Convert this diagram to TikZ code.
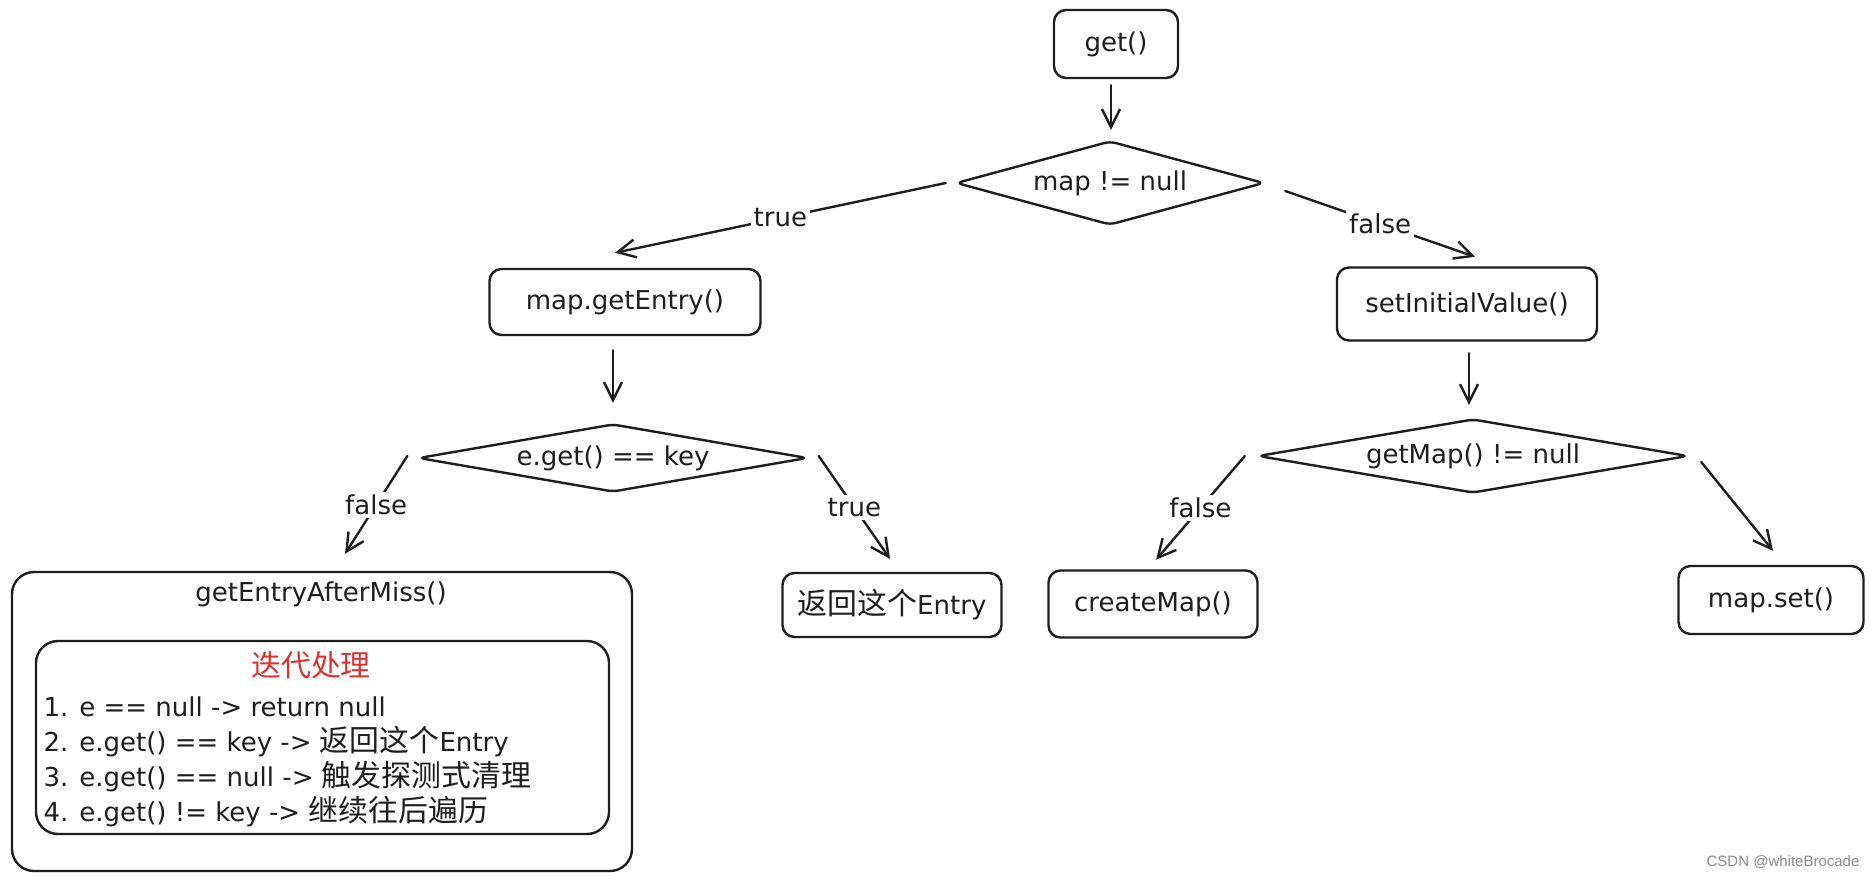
\documentclass[tikz,border=0pt]{standalone}
\usepackage{fontspec}
\setmainfont{DejaVu Sans}
\newfontfamily\cjk[Scale=1.15]{Noto Sans CJK SC}
\newfontfamily\wmfont{Liberation Sans}
\usetikzlibrary{shapes.geometric,arrows.meta,calc}
\definecolor{ink}{HTML}{1E1E1E}
\definecolor{exred}{HTML}{E03131}
\begin{document}
\begin{tikzpicture}[x=1pt,y=-1pt,
  every node/.style={font=\fontsize{26}{35}\selectfont, text=ink},
  box/.style={draw=ink, line width=2.4pt, rounded corners=12pt, inner sep=0pt},
  dia/.style={draw=ink, line width=2.4pt, shape=diamond, rounded corners=6pt, inner sep=0pt},
  conn/.style={draw=ink, line width=2.4pt, line cap=round, -{Straight Barb[length=18pt,width=18pt,line width=2.4pt]}},
  lbl/.style={fill=white, inner sep=3pt}
]
\fill[white] (0,0) rectangle (1873,880);
\useasboundingbox (0,0) rectangle (1873,880);

% nodes
\node[box, minimum width=124pt, minimum height=68pt] (get) at (1116,44) {get()};
\node[dia, minimum width=308pt, minimum height=84pt, aspect=3.67] (mapd) at (1110,183) {map != null};
\node[box, minimum width=271pt, minimum height=66pt] (gete) at (625,302) {map.getEntry()};
\node[box, minimum width=260pt, minimum height=73pt] (setiv) at (1467,304) {setInitialValue()};
\node[dia, minimum width=389pt, minimum height=68pt, aspect=5.7] (ed) at (613,458) {e.get() == key};
\node[dia, minimum width=430pt, minimum height=74pt, aspect=5.8] (gmd) at (1473,456) {getMap() != null};

\node[box, minimum width=620pt, minimum height=299pt, rounded corners=22pt] (outer) at (322,721.5) {};
\node (outtitle) at (321,594) {getEntryAfterMiss()};
\node[box, minimum width=573pt, minimum height=193pt, rounded corners=22pt] (inner) at (322.5,737.5) {};
\node[text=exred] (redt) at (311,665) {\cjk 迭代处理};
\node[anchor=base west] (l1) at (40,716) {1. e == null -> return null};
\node[anchor=base west] (l2) at (40,751) {2. e.get() == key -> {\cjk 返回这个}Entry};
\node[anchor=base west] (l3) at (40,786) {3. e.get() == null -> {\cjk 触发探测式清理}};
\node[anchor=base west] (l4) at (40,821) {4. e.get() != key -> {\cjk 继续往后遍历}};

\node[box, minimum width=219pt, minimum height=64pt] (ret) at (892,605) {{\cjk 返回这个}Entry};
\node[box, minimum width=209pt, minimum height=67pt] (cm) at (1153,604) {createMap()};
\node[box, minimum width=185pt, minimum height=68pt] (ms) at (1771,600) {map.set()};

\node[font=\wmfont\fontsize{15}{18}\selectfont, text=black!45] (wm) at (1783,862) {CSDN @whiteBrocade};

% connectors
\draw[conn] ($(get.south)+(-5,6)$) -- ($(mapd.north)+(1,-10)$);
\draw[conn] ($(mapd.west)+(-9,0)$) -- node[lbl] (tl1) {true} ($(gete.north)+(-10,-15)$);
\draw[conn] ($(mapd.east)+(20,8)$) -- node[lbl] (fl1) {false} ($(setiv.north)+(8,-9.5)$);
\draw[conn] ($(gete.south)+(-12,14)$) -- ($(ed.north)+(0,-20)$);
\draw[conn] ($(setiv.south)+(2,11.5)$) -- ($(gmd.north)+(-4,-13)$);
\draw[conn] ($(ed.west)+(-10,-2)$) -- node[lbl] (fl2) {false} ($(outer.north)+(23,-17)$);
\draw[conn] ($(ed.east)+(10,-2)$) -- node[lbl] (tl2) {true} ($(ret.north)+(-2,-13)$);
\draw[conn] ($(gmd.west)+(-12,0)$) -- node[lbl] (fl3) {false} ($(cm.north)+(3,-9.5)$);
\draw[conn] ($(gmd.east)+(12,6)$) -- ($(ms.north)+(2,-14)$);
\end{tikzpicture}
\end{document}
